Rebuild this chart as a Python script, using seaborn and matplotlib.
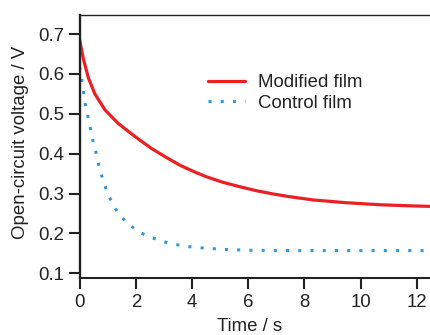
import matplotlib
matplotlib.use("Agg")
import matplotlib.pyplot as plt
import seaborn as sns
import pandas as pd

sns.set_style("ticks")
plt.rcParams['font.family'] = ['Liberation Sans', 'DejaVu Sans']

t_mod = [0.0, 0.13, 0.31, 0.54, 0.90, 1.37, 1.97, 2.56, 3.10, 3.6, 4.1, 4.52, 5.11, 5.71, 6.30, 6.89, 7.49, 8.32, 9.51, 10.69, 11.88, 12.47]
v_mod = [0.685, 0.638, 0.590, 0.550, 0.510, 0.476, 0.443, 0.413, 0.390, 0.370, 0.354, 0.342, 0.328, 0.317, 0.307, 0.299, 0.292, 0.284, 0.277, 0.272, 0.269, 0.268]

t_ctl = [0.0, 0.07, 0.13, 0.19, 0.28, 0.37, 0.46, 0.57, 0.66, 0.78, 0.92, 1.10, 1.34, 1.70, 2.15, 2.59, 3.0, 3.43, 3.87, 4.28, 4.72, 5.11, 6.0, 7.0, 8.0, 9.0, 10.0, 11.0, 12.47]
v_ctl = [0.618, 0.587, 0.558, 0.527, 0.497, 0.467, 0.436, 0.406, 0.376, 0.346, 0.315, 0.285, 0.254, 0.225, 0.202, 0.189, 0.179, 0.172, 0.167, 0.164, 0.162, 0.160, 0.158, 0.157, 0.157, 0.157, 0.157, 0.157, 0.157]

labels = ["Modified film", "Control film"]
xticks = [0, 2, 4, 6, 8, 10, 12]
yticks = [0.1, 0.2, 0.3, 0.4, 0.5, 0.6, 0.7]

df_mod = pd.DataFrame({"t": t_mod, "v": v_mod})
df_ctl = pd.DataFrame({"t": t_ctl, "v": v_ctl})

FS = 13.4
fig = plt.figure(figsize=(4.3, 3.35), dpi=100)
ax = fig.add_axes([79.7 / 430, (335 - 277.7) / 335, (430 - 79.7) / 430, (277.7 - 15) / 335])

sns.lineplot(data=df_mod, x="t", y="v", ax=ax, color="#ec1f24", linewidth=2.3, label=labels[0])
sns.lineplot(data=df_ctl, x="t", y="v", ax=ax, color="#3398da", linewidth=2.2, label=labels[1])
ln = ax.lines[-1]
ln.set_linestyle((0, (1, 3)))
ln.set_dash_capstyle("butt")

ax.set_xlim(0, 12.47)
ax.set_ylim(0.089, 0.748)
ax.set_xticks(xticks)
ax.set_yticks(yticks)
ax.set_xticklabels([str(x) for x in xticks])
ax.set_yticklabels([f"{y:.1f}" for y in yticks])

for s in ["left", "bottom", "top"]:
    ax.spines[s].set_color("#222222")
ax.spines["left"].set_linewidth(1.7)
ax.spines["bottom"].set_linewidth(1.5)
ax.spines["top"].set_linewidth(1.0)
ax.spines["right"].set_visible(False)

ax.tick_params(axis="both", direction="out", length=8, width=1.5, color="#222222",
               labelsize=FS, labelcolor="#222222")
ax.tick_params(axis="y", pad=3)
ax.tick_params(axis="x", pad=4)

ax.set_xlabel("Time / s", fontsize=FS, color="#222222")
ax.set_ylabel("Open-circuit voltage / V", fontsize=FS, color="#222222")
ax.xaxis.set_label_coords((249.7 - 79.7) / 350.3, -0.152)
ax.yaxis.set_label_coords((29 - 79.7) / 350.3, 0.515)

leg = ax.legend(loc="upper left", bbox_to_anchor=((208 - 79.7) / 350.3, 1 - (74 - 15) / 262.7),
                frameon=False, fontsize=FS, handlelength=2.0, handletextpad=0.7,
                labelspacing=0.2, borderaxespad=0, borderpad=0)
for txt in leg.get_texts():
    txt.set_color("#222222")

fig.savefig("out.png", dpi=100)
